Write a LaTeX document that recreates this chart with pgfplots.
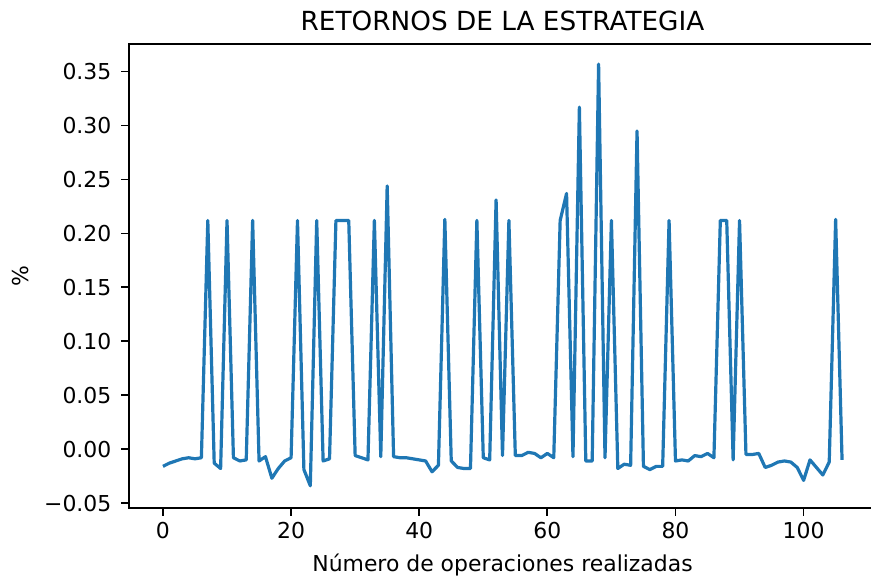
\documentclass[border=0pt]{standalone}
\usepackage{fontspec}
\setmainfont{DejaVu Sans}
\usepackage{pgfplots}
\pgfplotsset{compat=1.18}
\definecolor{mplblue}{HTML}{1F77B4}
\begin{document}
\begin{tikzpicture}
\begin{axis}[name=ax, scale only axis, width=373.5bp, height=232bp,
 xmin=-5.3, xmax=111.3, ymin=-0.0546, ymax=0.3756,
 axis line style={line width=0.85bp},
 tick align=outside, major tick length=3.8bp,
 every tick/.style={black, line width=0.85bp},
 tick pos=left,
 xtick={0,20,40,60,80,100},
 ytick={-0.05,0,0.05,0.1,0.15,0.2,0.25,0.3,0.35},
 yticklabels={−0.05,0.00,0.05,0.10,0.15,0.20,0.25,0.30,0.35},
 /pgf/number format/assume math mode=true,
 tick label style={font=\fontsize{11}{13}\selectfont},
 yticklabel style={xshift=-1.5bp},
 title={RETORNOS DE LA ESTRATEGIA},
 every axis title shift=0pt,
 title style={font=\fontsize{13.2}{15}\selectfont, at={(axis description cs:0.5,1.03)}, anchor=base, yshift=0pt},
 xlabel={Número de operaciones realizadas},
 xlabel style={font=\fontsize{11}{13}\selectfont, at={(axis description cs:0.5,-0.1358)}, anchor=base},
 ylabel={\%},
 ylabel style={font=\fontsize{11}{13}\selectfont, at={(axis description cs:-0.1446,0.5)}, anchor=center},
]
\addplot[mplblue, line width=1.6bp, no marks, line join=round] coordinates {
(0,-0.016) (1,-0.013) (2,-0.011) (3,-0.009) (4,-0.008) (5,-0.009) (6,-0.008) (7,0.212) (8,-0.013) (9,-0.018)
(10,0.212) (11,-0.008) (12,-0.011) (13,-0.010) (14,0.212) (15,-0.011) (16,-0.007) (17,-0.027) (18,-0.018) (19,-0.011)
(20,-0.008) (21,0.212) (22,-0.019) (23,-0.034) (24,0.212) (25,-0.011) (26,-0.009) (27,0.212) (28,0.212) (29,0.212)
(30,-0.006) (31,-0.008) (32,-0.010) (33,0.212) (34,-0.007) (35,0.244) (36,-0.007) (37,-0.008) (38,-0.008) (39,-0.009)
(40,-0.010) (41,-0.011) (42,-0.021) (43,-0.015) (44,0.213) (45,-0.011) (46,-0.017) (47,-0.018) (48,-0.018) (49,0.212)
(50,-0.008) (51,-0.010) (52,0.231) (53,-0.006) (54,0.212) (55,-0.006) (56,-0.006) (57,-0.003) (58,-0.004) (59,-0.008)
(60,-0.004) (61,-0.008) (62,0.212) (63,0.237) (64,-0.007) (65,0.317) (66,-0.011) (67,-0.011) (68,0.357) (69,-0.008)
(70,0.212) (71,-0.018) (72,-0.014) (73,-0.015) (74,0.295) (75,-0.016) (76,-0.019) (77,-0.016) (78,-0.016) (79,0.212)
(80,-0.011) (81,-0.010) (82,-0.011) (83,-0.006) (84,-0.007) (85,-0.004) (86,-0.008) (87,0.212) (88,0.212) (89,-0.010)
(90,0.212) (91,-0.005) (92,-0.005) (93,-0.004) (94,-0.017) (95,-0.015) (96,-0.012) (97,-0.011) (98,-0.012) (99,-0.017)
(100,-0.029) (101,-0.010) (102,-0.017) (103,-0.024) (104,-0.012) (105,0.213) (106,-0.010)
};
\end{axis}
\pgfresetboundingbox
\path[use as bounding box] ([shift={(-64.5bp,-34.5bp)}]ax.south west) rectangle ([shift={(-2.5bp,22bp)}]ax.north east);
\end{tikzpicture}
\end{document}
